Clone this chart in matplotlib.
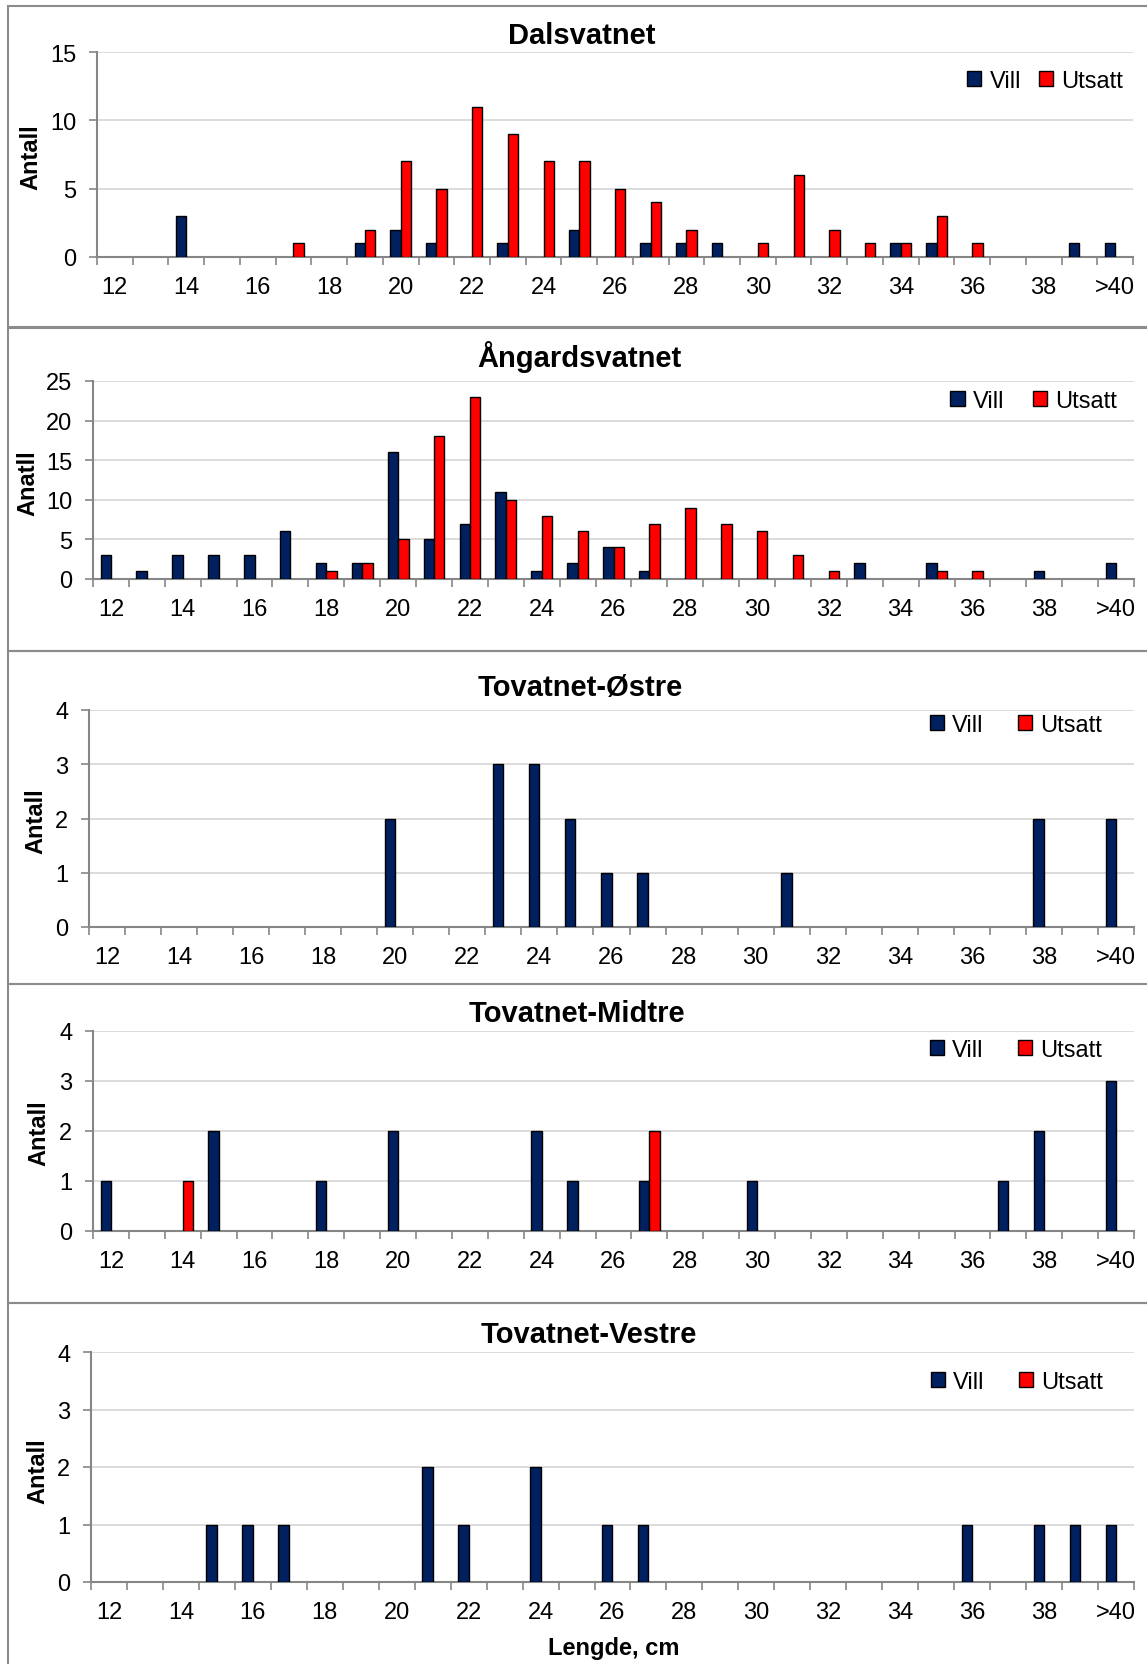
import numpy as np
import matplotlib
matplotlib.use("Agg")
import matplotlib.pyplot as plt
from matplotlib.patches import Rectangle, Patch

plt.rcParams['font.family'] = ['Liberation Sans', 'DejaVu Sans']

LENGTH_CLASSES = ["12", "13", "14", "15", "16", "17", "18", "19", "20", "21",
				  "22", "23", "24", "25", "26", "27", "28", "29", "30", "31",
				  "32", "33", "34", "35", "36", "37", "38", "39", ">40"]

SERIES_NAMES = ["Vill", "Utsatt"]
LAKES = ["Dalsvatnet", "Ångardsvatnet", "Tovatnet-Østre", "Tovatnet-Midtre", "Tovatnet-Vestre"]
Y_LABELS = ["Antall", "Anatll", "Antall", "Antall", "Antall"]
X_LABEL = "Lengde, cm"
Y_MAX = [15, 25, 4, 4, 4]
Y_STEP = [5, 5, 1, 1, 1]

DALSVATNET_VILL   = [0, 0, 3, 0, 0, 0, 0, 1, 2, 1, 0, 1, 0, 2, 0, 1, 1, 1, 0, 0, 0, 0, 1, 1, 0, 0, 0, 1, 1]
DALSVATNET_UTSATT = [0, 0, 0, 0, 0, 1, 0, 2, 7, 5, 11, 9, 7, 7, 5, 4, 2, 0, 1, 6, 2, 1, 1, 3, 1, 0, 0, 0, 0]

ANGARDSVATNET_VILL   = [3, 1, 3, 3, 3, 6, 2, 2, 16, 5, 7, 11, 1, 2, 4, 1, 0, 0, 0, 0, 0, 2, 0, 2, 0, 0, 1, 0, 2]
ANGARDSVATNET_UTSATT = [0, 0, 0, 0, 0, 0, 1, 2, 5, 18, 23, 10, 8, 6, 4, 7, 9, 7, 6, 3, 1, 0, 0, 1, 1, 0, 0, 0, 0]

OSTRE_VILL   = [0, 0, 0, 0, 0, 0, 0, 0, 2, 0, 0, 3, 3, 2, 1, 1, 0, 0, 0, 1, 0, 0, 0, 0, 0, 0, 2, 0, 2]
OSTRE_UTSATT = [0, 0, 0, 0, 0, 0, 0, 0, 0, 0, 0, 0, 0, 0, 0, 0, 0, 0, 0, 0, 0, 0, 0, 0, 0, 0, 0, 0, 0]

MIDTRE_VILL   = [1, 0, 0, 2, 0, 0, 1, 0, 2, 0, 0, 0, 2, 1, 0, 1, 0, 0, 1, 0, 0, 0, 0, 0, 0, 1, 2, 0, 3]
MIDTRE_UTSATT = [0, 0, 1, 0, 0, 0, 0, 0, 0, 0, 0, 0, 0, 0, 0, 2, 0, 0, 0, 0, 0, 0, 0, 0, 0, 0, 0, 0, 0]

VESTRE_VILL   = [0, 0, 0, 1, 1, 1, 0, 0, 0, 2, 1, 0, 2, 0, 1, 1, 0, 0, 0, 0, 0, 0, 0, 0, 1, 0, 1, 1, 1]
VESTRE_UTSATT = [0, 0, 0, 0, 0, 0, 0, 0, 0, 0, 0, 0, 0, 0, 0, 0, 0, 0, 0, 0, 0, 0, 0, 0, 0, 0, 0, 0, 0]

VILL = [DALSVATNET_VILL, ANGARDSVATNET_VILL, OSTRE_VILL, MIDTRE_VILL, VESTRE_VILL]
UTSATT = [DALSVATNET_UTSATT, ANGARDSVATNET_UTSATT, OSTRE_UTSATT, MIDTRE_UTSATT, VESTRE_UTSATT]

W, H = 1147, 1665
VILL_COLOR = "#002060"
UTSATT_COLOR = "#ff0000"
AXIS_COLOR = "#868686"
GRID_COLOR = "#d9d9d9"
FRAME_COLOR = "#8c8c8c"
BAR_W = 0.29

# pixel layout per panel: frame (top, bottom), axes (left, right, top, bottom),
# title (x, y), ylabel (x, y), legend (right, y, column spacing)
LAYOUT = [
	dict(frame=(7, 328), axes=(97, 1133, 53, 258), title=(582, 36), ylab=(31, 157), legend=(1123, 82, 0.75)),
	dict(frame=(329, 652), axes=(93, 1134, 382, 580), title=(579, 357), ylab=(28, 483), legend=(1117, 402, 1.2)),
	dict(frame=(652, 985), axes=(89, 1134, 711, 928), title=(580, 688), ylab=(36, 821), legend=(1102, 726, 1.45)),
	dict(frame=(985, 1304), axes=(93, 1134, 1032, 1232), title=(577, 1014), ylab=(39, 1133), legend=(1102, 1051, 1.45)),
	dict(frame=(1304, 1680), axes=(91, 1134, 1353, 1583), title=(589, 1335), ylab=(38, 1471), legend=(1103, 1383, 1.45)),
]

def fx(x):
	return x / W

def fy(y):
	return 1 - y / H

def draw_panel(fig, layout, title, ylabel, vill, utsatt, ymax, ystep):
	top, bottom = layout["frame"]
	fig.patches.append(Rectangle((fx(8), fy(bottom)), 2, (bottom - top) / H, transform=fig.transFigure,
								 fill=False, edgecolor=FRAME_COLOR, linewidth=1.5))

	left, right, atop, abottom = layout["axes"]
	ax = fig.add_axes([fx(left), fy(abottom), (right - left) / W, (abottom - atop) / H])

	x = np.arange(len(LENGTH_CLASSES))
	vill = np.array(vill)
	utsatt = np.array(utsatt)
	mv = vill > 0
	mu = utsatt > 0
	ax.bar(x[mv] - BAR_W / 2, vill[mv], BAR_W, color=VILL_COLOR, edgecolor="black", linewidth=1, zorder=3)
	ax.bar(x[mu] + BAR_W / 2, utsatt[mu], BAR_W, color=UTSATT_COLOR, edgecolor="black", linewidth=1, zorder=3)

	ax.set_xlim(-0.5, len(LENGTH_CLASSES) - 0.5)
	ax.set_ylim(0, ymax)
	ax.set_yticks(np.arange(0, ymax + 1, ystep))
	ax.yaxis.grid(True, color=GRID_COLOR, linewidth=1.3)
	ax.set_axisbelow(True)

	label_idx = list(range(0, 27, 2)) + [28]
	ax.set_xticks(label_idx)
	ax.set_xticklabels([LENGTH_CLASSES[i] for i in label_idx])
	ax.set_xticks(np.arange(-0.5, len(LENGTH_CLASSES)), minor=True)

	for side in ["top", "right"]:
		ax.spines[side].set_visible(False)
	for side in ["left", "bottom"]:
		ax.spines[side].set_color(AXIS_COLOR)
		ax.spines[side].set_linewidth(1.5)

	ax.tick_params(axis="x", which="major", length=0, pad=14, labelsize=17)
	ax.tick_params(axis="x", which="minor", length=6, width=1.2, color=AXIS_COLOR, direction="out")
	ax.tick_params(axis="y", length=6, width=1.2, color=AXIS_COLOR, pad=9, labelsize=17)

	tx, ty = layout["title"]
	fig.text(fx(tx), fy(ty), title, ha="center", va="center", fontsize=21, fontweight="bold")
	lx, ly = layout["ylab"]
	fig.text(fx(lx), fy(ly), ylabel, ha="center", va="center", rotation=90, fontsize=17, fontweight="bold")

	handles = [Patch(facecolor=VILL_COLOR, edgecolor="black", label=SERIES_NAMES[0]),
			   Patch(facecolor=UTSATT_COLOR, edgecolor="black", label=SERIES_NAMES[1])]
	lr, lyy, colsp = layout["legend"]
	fig.legend(handles=handles, loc="center right", bbox_to_anchor=(fx(lr), fy(lyy)), bbox_transform=fig.transFigure,
			   ncol=2, frameon=False, fontsize=17, handlelength=0.6, handleheight=0.6,
			   handletextpad=0.35, columnspacing=colsp, borderpad=0, borderaxespad=0)
	return ax

def main():
	fig = plt.figure(figsize=(W / 100, H / 100), dpi=100)
	for i in range(len(LAKES)):
		draw_panel(fig, LAYOUT[i], LAKES[i], Y_LABELS[i], VILL[i], UTSATT[i], Y_MAX[i], Y_STEP[i])
	fig.text(fx(614), fy(1649), X_LABEL, ha="center", va="center", fontsize=17, fontweight="bold")
	fig.savefig("out.png", dpi=100)

if __name__ == '__main__':
	main()
